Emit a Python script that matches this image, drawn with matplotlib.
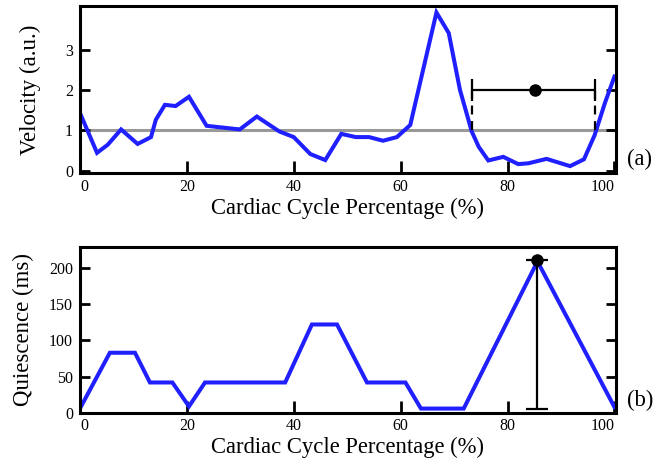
import numpy as np
import matplotlib
matplotlib.use("Agg")
import matplotlib.pyplot as plt

plt.rcParams['font.family'] = ['Liberation Serif', 'DejaVu Serif']

# velocity curve (panel a)
vel_x = [0, 3.2, 5.2, 7.7, 10.8, 13.3, 14.2, 15.9, 17.9, 20.4, 23.7, 29.9, 33.1,
         37.3, 40.0, 43.1, 45.9, 48.9, 51.6, 54.1, 56.7, 59.3, 61.8, 66.7, 69.0,
         71.1, 73.3, 74.6, 76.4, 79.2, 82.0, 83.9, 87.3, 91.7, 94.3, 96.3, 98.2, 100]
vel_y = [1.43, 0.44, 0.64, 1.02, 0.66, 0.83, 1.26, 1.63, 1.60, 1.83, 1.11, 1.02, 1.34,
         0.97, 0.83, 0.41, 0.26, 0.91, 0.83, 0.83, 0.74, 0.83, 1.13, 3.92, 3.41,
         2.00, 0.97, 0.59, 0.25, 0.34, 0.16, 0.18, 0.29, 0.11, 0.28, 0.88, 1.67, 2.33]
threshold = 1.0
win_center, win_lo, win_hi, win_y = 85.2, 73.4, 96.4, 2.0

# quiescence curve (panel b)
q_x = [0, 5.6, 10.3, 13.1, 17.3, 20.4, 23.4, 38.4, 43.4, 48.1, 53.7, 60.9,
       63.8, 71.8, 85.6, 100]
q_y = [6, 83, 83, 42, 42, 9, 42, 42, 122, 122, 42, 42, 6, 6, 209, 8]
q_best_x, q_best_y, q_low = 85.5, 211, 5

xticks = [0, 20, 40, 60, 80, 100]
blue = '#1f1fff'

fig = plt.figure(figsize=(6.66, 4.65), dpi=100)
ax1 = fig.add_axes([0.120, 0.628, 0.805, 0.359])
ax2 = fig.add_axes([0.120, 0.112, 0.805, 0.357])


def style(ax):
    for s in ax.spines.values():
        s.set_linewidth(2.2)
    ax.set_xlim(0, 100.3)
    ax.set_xticks(xticks)
    ax.set_xticklabels([str(t) for t in xticks])
    ax.tick_params(axis='x', direction='in', length=9, width=2, labelsize=11.5, pad=4)
    ax.tick_params(axis='y', direction='in', length=7, width=2, labelsize=11.5,
                   right=True, pad=5)
    labs = ax.get_xticklabels()
    labs[0].set_ha('left')
    labs[-1].set_ha('right')
    ax.set_xlabel('Cardiac Cycle Percentage (%)', fontsize=16.3, labelpad=2)


ax1.axhline(threshold, color='#999999', lw=2.2, zorder=1)
ax1.plot(vel_x, vel_y, color=blue, lw=2.9, zorder=2, solid_joinstyle='miter')
ax1.vlines([win_lo, win_hi], threshold, win_y, colors='k', lw=1.6,
           linestyles=(0, (4, 3)), zorder=3)
ax1.errorbar([win_center], [win_y],
             xerr=[[win_center - win_lo], [win_hi - win_center]],
             fmt='o', color='k', ms=8, lw=1.6, capsize=8, capthick=1.6, zorder=4)
ax1.set_ylim(-0.06, 4.08)
ax1.set_yticks([0, 1, 2, 3])
ax1.set_ylabel('Velocity (a.u.)', fontsize=16.5, labelpad=17)
style(ax1)
ax1.text(1.02, 0.02, '(a)', transform=ax1.transAxes, fontsize=16.3,
         ha='left', va='bottom')

ax2.plot(q_x, q_y, color=blue, lw=2.9, zorder=2, solid_joinstyle='miter')
ax2.errorbar([q_best_x], [q_best_y], yerr=[[q_best_y - q_low], [0]],
             fmt='o', color='k', ms=8, lw=1.6, capsize=8, capthick=1.6, zorder=4)
ax2.set_ylim(0, 229)
ax2.set_yticks([0, 50, 100, 150, 200])
ax2.set_ylabel('Quiescence (ms)', fontsize=16.5, labelpad=11)
style(ax2)
ax2.text(1.02, 0.01, '(b)', transform=ax2.transAxes, fontsize=16.3,
         ha='left', va='bottom')

fig.savefig('out.png', dpi=100)
